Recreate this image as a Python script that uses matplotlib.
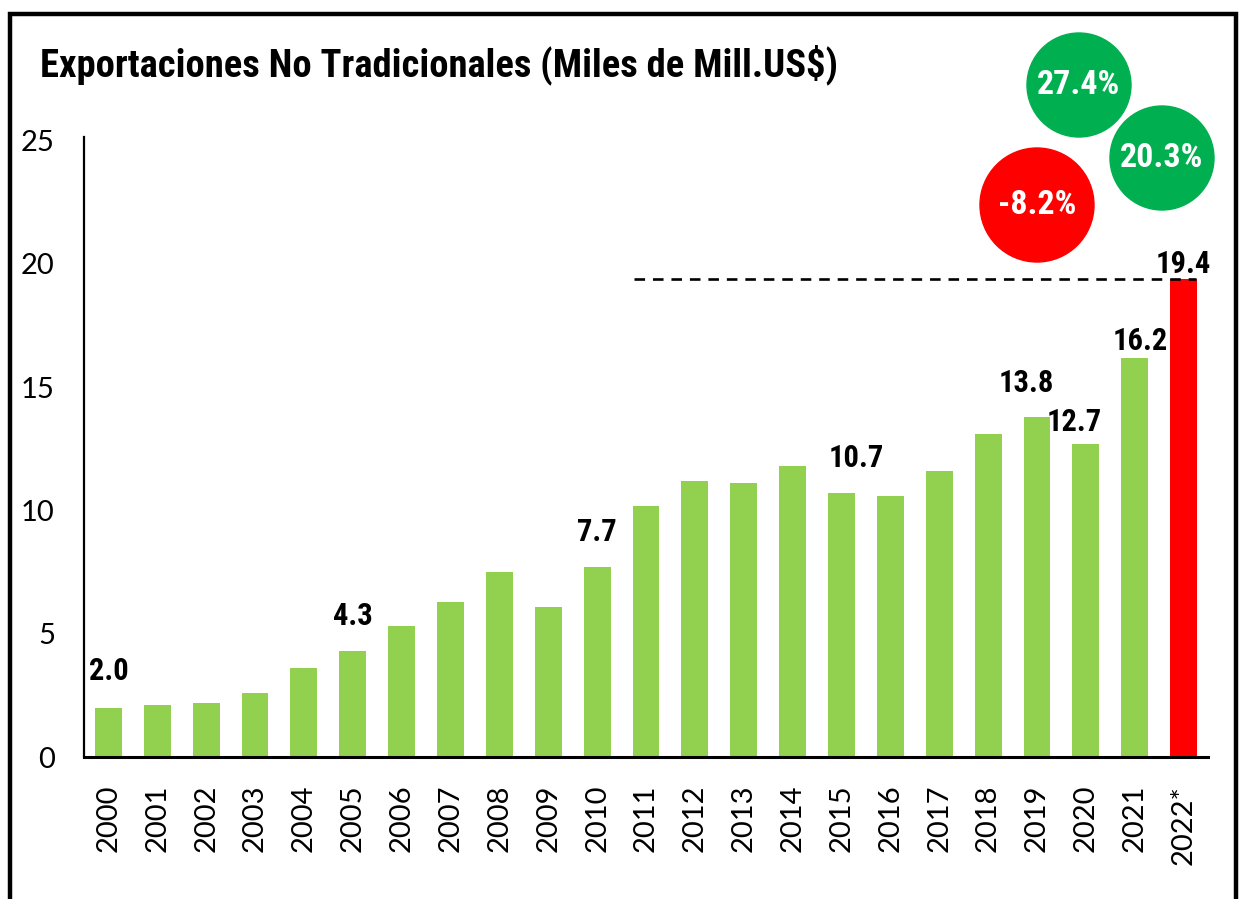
import matplotlib
matplotlib.use("Agg")
import matplotlib.pyplot as plt
from matplotlib import font_manager
from matplotlib.patches import Rectangle, Ellipse

# data
years = ["2000", "2001", "2002", "2003", "2004", "2005", "2006", "2007", "2008",
         "2009", "2010", "2011", "2012", "2013", "2014", "2015", "2016", "2017",
         "2018", "2019", "2020", "2021", "2022*"]
values = [2.0, 2.1, 2.2, 2.6, 3.6, 4.3, 5.3, 6.3, 7.5, 6.1, 7.7, 10.2, 11.2,
          11.1, 11.8, 10.7, 10.6, 11.6, 13.1, 13.8, 12.7, 16.2, 19.4]
labelled = ["2000", "2005", "2010", "2015", "2019", "2020", "2021", "2022*"]
growth = ["27.4%", "20.3%", "-8.2%"]
growth_colors = ["#00B050", "#00B050", "#FF0000"]
title = "Exportaciones No Tradicionales (Miles de Mill.US$)"

names = {f.name for f in font_manager.fontManager.ttflist}
bold_font = "DejaVu Sans"
for cand in ["Liberation Sans Narrow", "Roboto Condensed", "Open Sans Condensed", "Lato"]:
    if cand in names:
        bold_font = cand
        break
tick_font = "Lato" if "Lato" in names else "DejaVu Sans"

W, H = 1246, 899
fig = plt.figure(figsize=(W / 100, H / 100), dpi=100)
ax = fig.add_axes([84 / W, 142 / H, (1208 - 84) / W, (757 - 137) / H])

x = list(range(len(years)))
colors = ["#92D050"] * (len(years) - 1) + ["#FF0000"]
ax.bar(x, values, width=0.55, color=colors, zorder=2)

ax.set_xlim(-0.5, len(years) - 0.5)
ax.set_ylim(0, 25.15)
ax.set_yticks([0, 5, 10, 15, 20, 25])
ax.set_xticks(x)
ax.set_xticklabels(years, rotation=90, fontsize=21, family=tick_font)
for lab in ax.get_yticklabels():
    lab.set_fontsize(21)
    lab.set_family(tick_font)
ax.tick_params(axis="x", length=0, pad=20)
ax.tick_params(axis="y", length=0, pad=21)
for s in ["top", "right"]:
    ax.spines[s].set_visible(False)
ax.spines["left"].set_linewidth(1.6)
ax.spines["bottom"].set_linewidth(2.2)

# value labels (offsets in px: dx, dy)
offsets = {"2000": (0, 37), "2005": (0, 35), "2010": (0, 35), "2015": (15, 35),
           "2019": (-11, 34), "2020": (-12, 22), "2021": (6, 17), "2022*": (0, 15)}
for yr in labelled:
    i = years.index(yr)
    dx, dy = offsets[yr]
    ax.annotate(f"{values[i]:.1f}", (i, values[i]), xytext=(dx * 0.72, dy * 0.72),
                textcoords="offset points", ha="center", va="center",
                fontsize=22, fontweight="bold", family=bold_font, zorder=4)

# dashed reference line
ax.plot([10.75, 22.25], [values[-1], values[-1]], ls="--", color="black",
        lw=1.9, dashes=(4, 3), zorder=3)

# title, shrunk to the reference width
t = fig.text(40 / W, 1 - 65 / H, title, fontsize=27, fontweight="bold",
             family=bold_font, ha="left", va="center")
fig.canvas.draw()
tw = t.get_window_extent().width
t.set_fontsize(27 * 798 / tw)

# growth bubbles (pixel centres, radius)
bubbles = [(1079, 85, 52), (1162, 158, 52), (1037, 205, 57)]
for (cx, cy, r), txt, c in zip(bubbles, growth, growth_colors):
    fig.add_artist(Ellipse((cx / W, 1 - cy / H), 2 * r / W, 2 * r / H,
                           transform=fig.transFigure, color=c, zorder=5))
    fig.text(cx / W, 1 - cy / H, txt, color="white", fontsize=24.5,
             fontweight="bold", family=bold_font, ha="center", va="center",
             zorder=6)

# outer frame
fig.add_artist(Rectangle((10 / W, -0.05), (1236 - 10) / W, 1.05 - 14 / H,
                         transform=fig.transFigure, fill=False,
                         edgecolor="black", lw=3.2, clip_on=False))

fig.savefig("out.png", dpi=100)
